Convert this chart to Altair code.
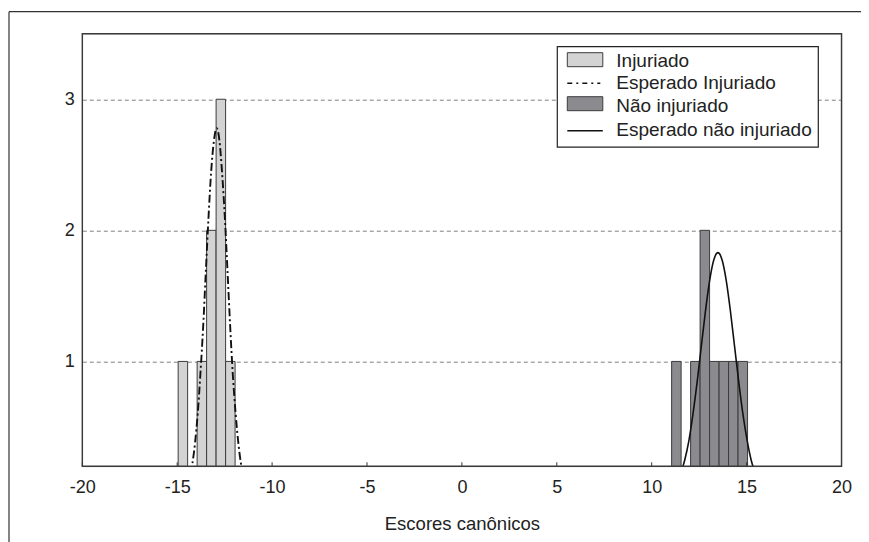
import altair as alt
import pandas as pd

# ---- data ----
inj_bin_start = [-14.95, -14.45, -13.95, -13.45, -12.95, -12.45]
inj_bin_end   = [-14.45, -13.95, -13.45, -12.95, -12.45, -11.95]
inj_counts    = [1, 0, 1, 2, 3, 1]

non_bin_start = [11.05, 11.55, 12.05, 12.55, 13.05, 13.55, 14.05, 14.55]
non_bin_end   = [11.55, 12.05, 12.55, 13.05, 13.55, 14.05, 14.55, 15.05]
non_counts    = [1, 0, 1, 2, 1, 1, 1, 1]

inj_curve_x = [-14.63, -14.49, -14.35, -14.20, -14.06, -13.92, -13.78, -13.63, -13.49,
               -13.35, -13.21, -13.06, -12.92, -12.78, -12.64, -12.49, -12.35, -12.21,
               -12.07, -11.92, -11.78, -11.64, -11.50, -11.35, -11.21]
inj_curve_y = [0.03, 0.06, 0.12, 0.22, 0.38, 0.60, 0.90, 1.27, 1.69, 2.10, 2.45, 2.69,
               2.78, 2.69, 2.45, 2.10, 1.69, 1.27, 0.90, 0.60, 0.38, 0.22, 0.12, 0.06, 0.03]

non_curve_x = [10.86, 11.08, 11.30, 11.52, 11.74, 11.96, 12.17, 12.39, 12.61, 12.83,
               13.05, 13.27, 13.49, 13.71, 13.93, 14.15, 14.37, 14.59, 14.81, 15.03,
               15.24, 15.46, 15.68, 15.90, 16.12]
non_curve_y = [0.020, 0.042, 0.080, 0.146, 0.248, 0.396, 0.594, 0.838, 1.110, 1.381,
               1.615, 1.774, 1.830, 1.774, 1.615, 1.381, 1.110, 0.838, 0.594, 0.396,
               0.248, 0.146, 0.080, 0.042, 0.020]

x_ticks = [-20, -15, -10, -5, 0, 5, 10, 15, 20]
y_ticks = [1, 2, 3]
legend_labels = ["Injuriado", "Esperado Injuriado", "Não injuriado", "Esperado não injuriado"]
x_title = "Escores canônicos"

# ---- styling ----
FONT = "Liberation Sans"
W, H = 759.2, 432.6
LIGHT = "#d3d3d3"
DARK = "#8b8b8f"
EDGE = "#3c3c3c"

inj_df = pd.DataFrame({"x0": inj_bin_start, "x1": inj_bin_end, "n": inj_counts})
non_df = pd.DataFrame({"x0": non_bin_start, "x1": non_bin_end, "n": non_counts})
inj_c = pd.DataFrame({"x": inj_curve_x, "y": inj_curve_y})
non_c = pd.DataFrame({"x": non_curve_x, "y": non_curve_y})

xscale = alt.Scale(domain=[-20, 20], nice=False, zero=False)
yscale = alt.Scale(domain=[0.2, 3.5], nice=False, zero=False)

xaxis = alt.Axis(values=x_ticks, title=x_title, grid=False, ticks=False, domain=False,
                 labelExpr="'' + datum.value",
                 labelFontSize=18, labelFont=FONT, labelColor="#222", labelPadding=12,
                 titleFontSize=18.5, titleFont=FONT, titleFontWeight="normal",
                 titleColor="#222", titlePadding=18, labelFlush=False)
yaxis = alt.Axis(values=y_ticks, title=None, grid=True, gridDash=[4, 3], gridColor="#808080",
                 gridWidth=1, ticks=False, domain=False, labelFontSize=18, labelFont=FONT,
                 labelExpr="'' + datum.value",
                 labelColor="#222", labelPadding=8)

def bars(df, fill):
    return alt.Chart(df).mark_rect(fill=fill, stroke=EDGE, strokeWidth=1, clip=True).encode(
        x=alt.X("x0:Q", scale=xscale, axis=xaxis),
        x2="x1:Q",
        y=alt.Y("n:Q", scale=yscale, axis=yaxis),
        y2=alt.datum(0),
    )

inj_bars = bars(inj_df, LIGHT)
non_bars = bars(non_df, DARK)

inj_line = alt.Chart(inj_c).mark_line(color="#111", strokeWidth=1.9, strokeDash=[8, 3, 2, 3],
                                      interpolate="monotone", clip=True).encode(
    x=alt.X("x:Q", scale=xscale), y=alt.Y("y:Q", scale=yscale))
non_line = alt.Chart(non_c).mark_line(color="#111", strokeWidth=1.6,
                                      interpolate="monotone", clip=True).encode(
    x=alt.X("x:Q", scale=xscale), y=alt.Y("y:Q", scale=yscale))

# inward x ticks
tick_df = pd.DataFrame({"t": x_ticks})
xticks = alt.Chart(tick_df).mark_rule(color="#333", strokeWidth=1).encode(
    x=alt.X("t:Q", scale=xscale), y=alt.value(H), y2=alt.value(H - 4))

one = pd.DataFrame({"k": [0]})
# plot frame
plot_frame = alt.Chart(one).mark_rect(fill=None, fillOpacity=0, stroke="#3a3a3a",
                                      strokeWidth=1.4).encode(
    x=alt.value(0), x2=alt.value(W), y=alt.value(0), y2=alt.value(H))

# manual legend
lg_box = alt.Chart(one).mark_rect(fill="white", stroke="#222", strokeWidth=1.2).encode(
    x=alt.value(475), x2=alt.value(736), y=alt.value(13), y2=alt.value(113.5))
sw1 = alt.Chart(one).mark_rect(fill=LIGHT, stroke=EDGE, strokeWidth=1).encode(
    x=alt.value(485), x2=alt.value(520.5), y=alt.value(19), y2=alt.value(33))
sw2 = alt.Chart(one).mark_rect(fill=DARK, stroke=EDGE, strokeWidth=1).encode(
    x=alt.value(485), x2=alt.value(520.5), y=alt.value(63), y2=alt.value(77))
ln1 = alt.Chart(one).mark_rule(color="#111", strokeWidth=1.6, strokeDash=[5, 4, 2, 4]).encode(
    x=alt.value(485), x2=alt.value(518), y=alt.value(49.5))
ln2 = alt.Chart(one).mark_rule(color="#111", strokeWidth=1.4).encode(
    x=alt.value(485), x2=alt.value(520.5), y=alt.value(97))

lg_ys = [27, 49.6, 72.3, 96.3]
lg_texts = [
    alt.Chart(one).mark_text(align="left", baseline="middle", font=FONT, fontSize=19,
                             color="#222", text=lab).encode(x=alt.value(534), y=alt.value(yy))
    for lab, yy in zip(legend_labels, lg_ys)
]

# outer frame (top and left edges)
frame_top = alt.Chart(one).mark_rule(color="#333", strokeWidth=1.2, clip=False).encode(
    x=alt.value(-73.3), x2=alt.value(800), y=alt.value(-22))
frame_left = alt.Chart(one).mark_rule(color="#333", strokeWidth=1.2, clip=False).encode(
    x=alt.value(-73.3), y=alt.value(-22), y2=alt.value(520))

chart = alt.layer(
    inj_bars, non_bars, inj_line, non_line, xticks, plot_frame,
    lg_box, sw1, sw2, ln1, ln2, *lg_texts, frame_top, frame_left
).properties(
    width=W, height=H,
    autosize=alt.AutoSizeParams(type="none"),
    padding={"left": 74.3, "top": 25.7, "right": 19.5, "bottom": 75.7},
).configure_view(stroke=None).configure(background="white")

chart.save("out.html", embed_options={"renderer": "svg", "actions": False})
